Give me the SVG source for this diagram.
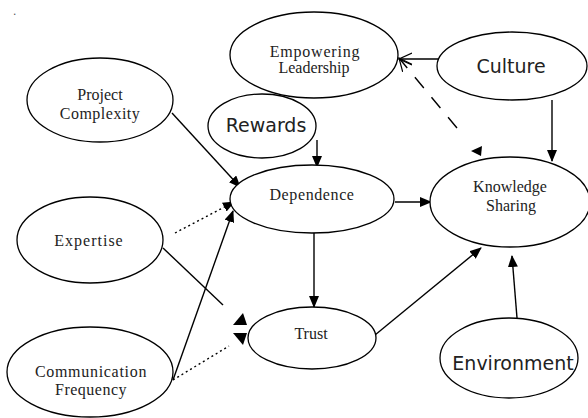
<svg xmlns="http://www.w3.org/2000/svg" width="588" height="418" viewBox="0 0 588 418">
<style>
.n{fill:#fff;stroke:#000;stroke-width:1.3}
.s{font-family:"Liberation Serif","Times New Roman",serif;font-size:16px;fill:#222;text-anchor:middle}
.a{font-family:"DejaVu Sans",Verdana,sans-serif;font-size:19px;fill:#222;text-anchor:middle}
.c{fill:none;stroke:#000;stroke-width:1.4}
.d{stroke-dasharray:2 3}
.h{fill:#000}
</style>
<defs>
<marker id="ah" markerWidth="12" markerHeight="10" refX="11" refY="5" orient="auto" markerUnits="userSpaceOnUse">
<path d="M0,0 L12,5 L0,10 Z" fill="#000"/>
</marker>
<marker id="av" markerWidth="14" markerHeight="14" refX="13" refY="7" orient="auto" markerUnits="userSpaceOnUse">
<path d="M0,1 L13,7 L0,13" fill="none" stroke="#000" stroke-width="1.2"/>
</marker>
</defs>
<rect width="588" height="418" fill="#fff"/>
<text x="13" y="15" style="font-family:'Liberation Sans',sans-serif;font-size:12px;fill:#555">.</text>
<g id="connectors">
<line class="c" x1="172" y1="113" x2="240" y2="187" marker-end="url(#ah)"/>
<line class="c" x1="317" y1="140" x2="317" y2="167" marker-end="url(#ah)"/>
<line class="c" x1="443" y1="59" x2="399" y2="59" marker-end="url(#av)"/>
<line class="c" x1="457" y1="128" x2="399" y2="58" stroke-dasharray="14 12" marker-end="url(#av)"/>
<path class="h" d="M471,151 L482,146 L481,156 Z"/>
<line class="c" x1="552" y1="100" x2="552" y2="161" marker-end="url(#ah)"/>
<line class="c" x1="395" y1="202" x2="431" y2="202" marker-end="url(#ah)"/>
<line class="c" x1="314" y1="233" x2="314" y2="307" marker-end="url(#ah)"/>
<line class="c" x1="375" y1="335" x2="481" y2="248" marker-end="url(#ah)"/>
<line class="c" x1="517" y1="318" x2="512" y2="256" marker-end="url(#ah)"/>
<line class="c d" x1="175" y1="233" x2="234" y2="202" marker-end="url(#ah)"/>
<line class="c" x1="163" y1="248" x2="223" y2="305"/>
<path class="h" d="M233,325 L247,325 L243,313 Z"/>
<line class="c" x1="173" y1="380" x2="233" y2="211" marker-end="url(#ah)"/>
<line class="c d" x1="173" y1="380" x2="229" y2="346"/>
<path class="h" d="M233,333 L247,333 L243,345 Z"/>
</g>
<g id="project-complexity"><ellipse class="n" cx="100" cy="100" rx="73" ry="42"/><text class="s" x="100" y="100">Project</text><text class="s" x="100" y="119" letter-spacing="0.5">Complexity</text></g>
<g id="empowering-leadership"><ellipse class="n" cx="314" cy="55" rx="84" ry="43"/><text class="s" x="315" y="57" letter-spacing="0.8">Empowering</text><text class="s" x="314" y="73">Leadership</text></g>
<g id="culture"><ellipse class="n" cx="512" cy="66" rx="75" ry="34"/><text class="a" x="511" y="73">Culture</text></g>
<g id="rewards"><ellipse class="n" cx="262" cy="126" rx="54" ry="32"/><text class="a" x="266" y="132">Rewards</text></g>
<g id="dependence"><ellipse class="n" cx="312" cy="199" rx="82" ry="34"/><text class="s" x="312" y="200" letter-spacing="0.6">Dependence</text></g>
<g id="knowledge-sharing"><ellipse class="n" cx="510" cy="202" rx="80" ry="45"/><text class="s" x="510" y="192">Knowledge</text><text class="s" x="511" y="211">Sharing</text></g>
<g id="expertise"><ellipse class="n" cx="90" cy="240" rx="73" ry="43"/><text class="s" x="89" y="246" letter-spacing="1">Expertise</text></g>
<g id="trust"><ellipse class="n" cx="312" cy="338" rx="64" ry="31"/><text class="s" x="311" y="339">Trust</text></g>
<g id="communication-frequency"><ellipse class="n" cx="90" cy="372" rx="83" ry="45"/><text class="s" x="91" y="377" letter-spacing="0.7">Communication</text><text class="s" x="91" y="395" letter-spacing="0.5">Frequency</text></g>
<g id="environment"><ellipse class="n" cx="509" cy="358" rx="69" ry="40"/><text class="a" x="513" y="370">Environment</text></g>
</svg>
